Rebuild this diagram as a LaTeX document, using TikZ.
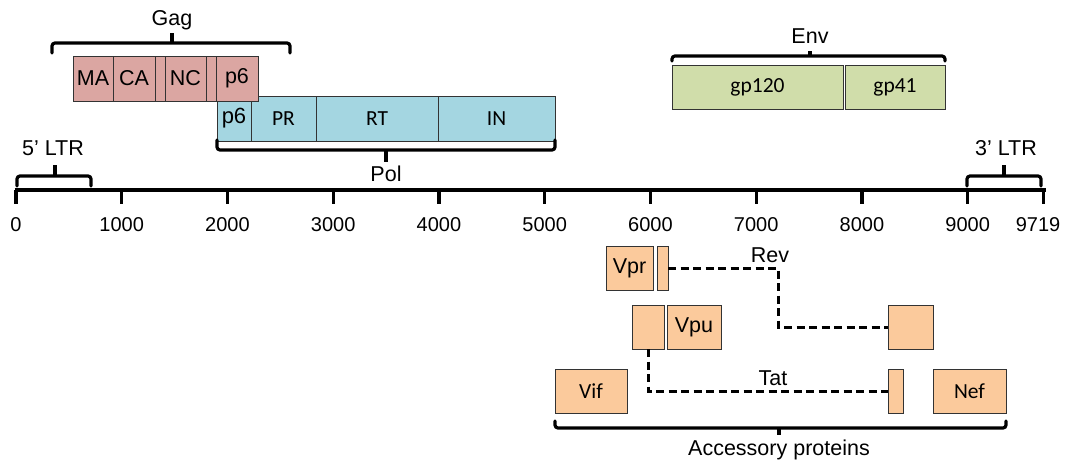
\documentclass[tikz,border=0pt]{standalone}
\usepackage{fontspec}
\setmainfont{Liberation Sans}
\newfontfamily\calfont{Carlito}
\definecolor{gagc}{RGB}{219,166,162}
\definecolor{polc}{RGB}{164,214,225}
\definecolor{envc}{RGB}{208,221,170}
\definecolor{accc}{RGB}{251,202,156}
\begin{document}
\begin{tikzpicture}[x=1pt,y=-1pt,
  box/.style={draw=black!80, line width=1pt, inner sep=0pt, outer sep=0pt},
  gagbox/.style={box, fill=gagc, minimum height=45pt, font=\fontsize{21.5}{24}\selectfont},
  polbox/.style={box, fill=polc, minimum height=45pt, font=\calfont\fontsize{21.5}{24}\selectfont},
  envbox/.style={box, fill=envc, minimum height=44pt, font=\calfont\fontsize{21.5}{24}\selectfont},
  accbox/.style={box, fill=accc, minimum height=44pt, font=\fontsize{21.5}{24}\selectfont},
  accboxc/.style={accbox, font=\calfont\fontsize{21.5}{24}\selectfont},
  brace/.style={line width=3.2pt, rounded corners=3pt, line cap=round},
  bracetip/.style={line width=3.2pt},
  lbl/.style={inner sep=0pt, font=\fontsize{21.5}{24}\selectfont},
  num/.style={inner sep=0pt, font=\fontsize{20}{22}\selectfont},
  conn/.style={line width=3pt, dash pattern=on 8pt off 4.5pt}
]
\useasboundingbox (0,0) rectangle (1074,466);

% Pol
\node[polbox, minimum width=34pt, font=\fontsize{22}{24}\selectfont] (p6p) at (234,118.5) {p6};
\node[polbox, minimum width=65pt] (PR) at (283.5,118.5) {PR};
\node[polbox, minimum width=122pt] (RT) at (377,118.5) {RT};
\node[polbox, minimum width=117pt] (IN) at (496.5,118.5) {IN};

% Gag
\node[gagbox, minimum width=40pt] (MA) at (93,78.5) {MA};
\node[gagbox, minimum width=42pt] (CA) at (134,78.5) {CA};
\node[gagbox, minimum width=10pt] (sp1) at (160,78.5) {};
\node[gagbox, minimum width=41pt] (NC) at (185.5,78.5) {NC};
\node[gagbox, minimum width=10pt] (sp2) at (211,78.5) {};
\node[gagbox, minimum width=42pt] (p6g) at (237,78.5) {p6};

% Env
\node[envbox, minimum width=171pt] (gp120) at (757.5,87) {gp120};
\node[envbox, minimum width=100pt] (gp41) at (895,87) {gp41};

% Braces
\draw[brace] (52,53) -- (52,43) -- (290,43) -- (290,53);
\draw[bracetip] (172,43) -- (172,33);
\node[lbl] (gag) at (172,20) {Gag};

\draw[brace] (217,140) -- (217,150) -- (555,150) -- (555,140);
\draw[bracetip] (386,150) -- (386,162);
\node[lbl] (pol) at (386,174) {Pol};

\draw[brace] (672,61) -- (672,56) -- (945,56) -- (945,61);
\draw[bracetip] (810,56) -- (810,51);
\node[lbl] (env) at (810,36) {Env};

\draw[brace] (17,186) -- (17,176) -- (91,176) -- (91,186);
\draw[bracetip] (55,176) -- (55,165);
\node[lbl] (ltr5) at (53,148) {5’ LTR};

\draw[brace] (967,186) -- (967,176) -- (1041,176) -- (1041,186);
\draw[bracetip] (1004,176) -- (1004,165);
\node[lbl] (ltr3) at (1006,148) {3’ LTR};

% Axis
\draw[line width=3.3pt] (14.5,190) -- (1045.5,190);
\foreach \n in {0,1000,...,9000,9719} {
  \pgfmathsetmacro{\xx}{16+0.10575*\n}
  \draw[line width=3.3pt] (\xx,190) -- (\xx,204);
}
\foreach \n in {0,1000,...,9000} {
  \pgfmathsetmacro{\xx}{16+0.10575*\n}
  \node[num] (t\n) at (\xx,225) {\n};
}
\node[num] (t9719) at (1038,225) {9719};

% Accessory
\node[accbox, minimum width=47pt] (Vpr) at (629.5,268) {Vpr};
\node[accbox, minimum width=11pt] (rev1) at (662.5,268) {};
\node[accbox, minimum width=45pt] (rev2) at (910.5,327) {};
\node[accbox, minimum width=32pt] (tat1) at (648,327) {};
\node[accbox, minimum width=54pt] (Vpu) at (694,327) {Vpu};
\node[accbox, minimum width=15pt] (tat2) at (895.5,391) {};
\node[accboxc, minimum width=72pt] (Vif) at (591,391) {Vif};
\node[accboxc, minimum width=73pt] (Nef) at (969.5,391) {Nef};

\draw[conn] (rev1.east) -- (778,268) |- (rev2.west);
\node[lbl] (rev) at (770,255) {Rev};
\draw[conn] (tat1.south) |- (tat2.west);
\node[lbl] (tat) at (773,378) {Tat};

\draw[brace] (555,421) -- (555,428) -- (1006,428) -- (1006,421);
\draw[bracetip] (779,428) -- (779,435);
\node[lbl] (acc) at (779,450) {Accessory proteins};
\end{tikzpicture}
\end{document}
